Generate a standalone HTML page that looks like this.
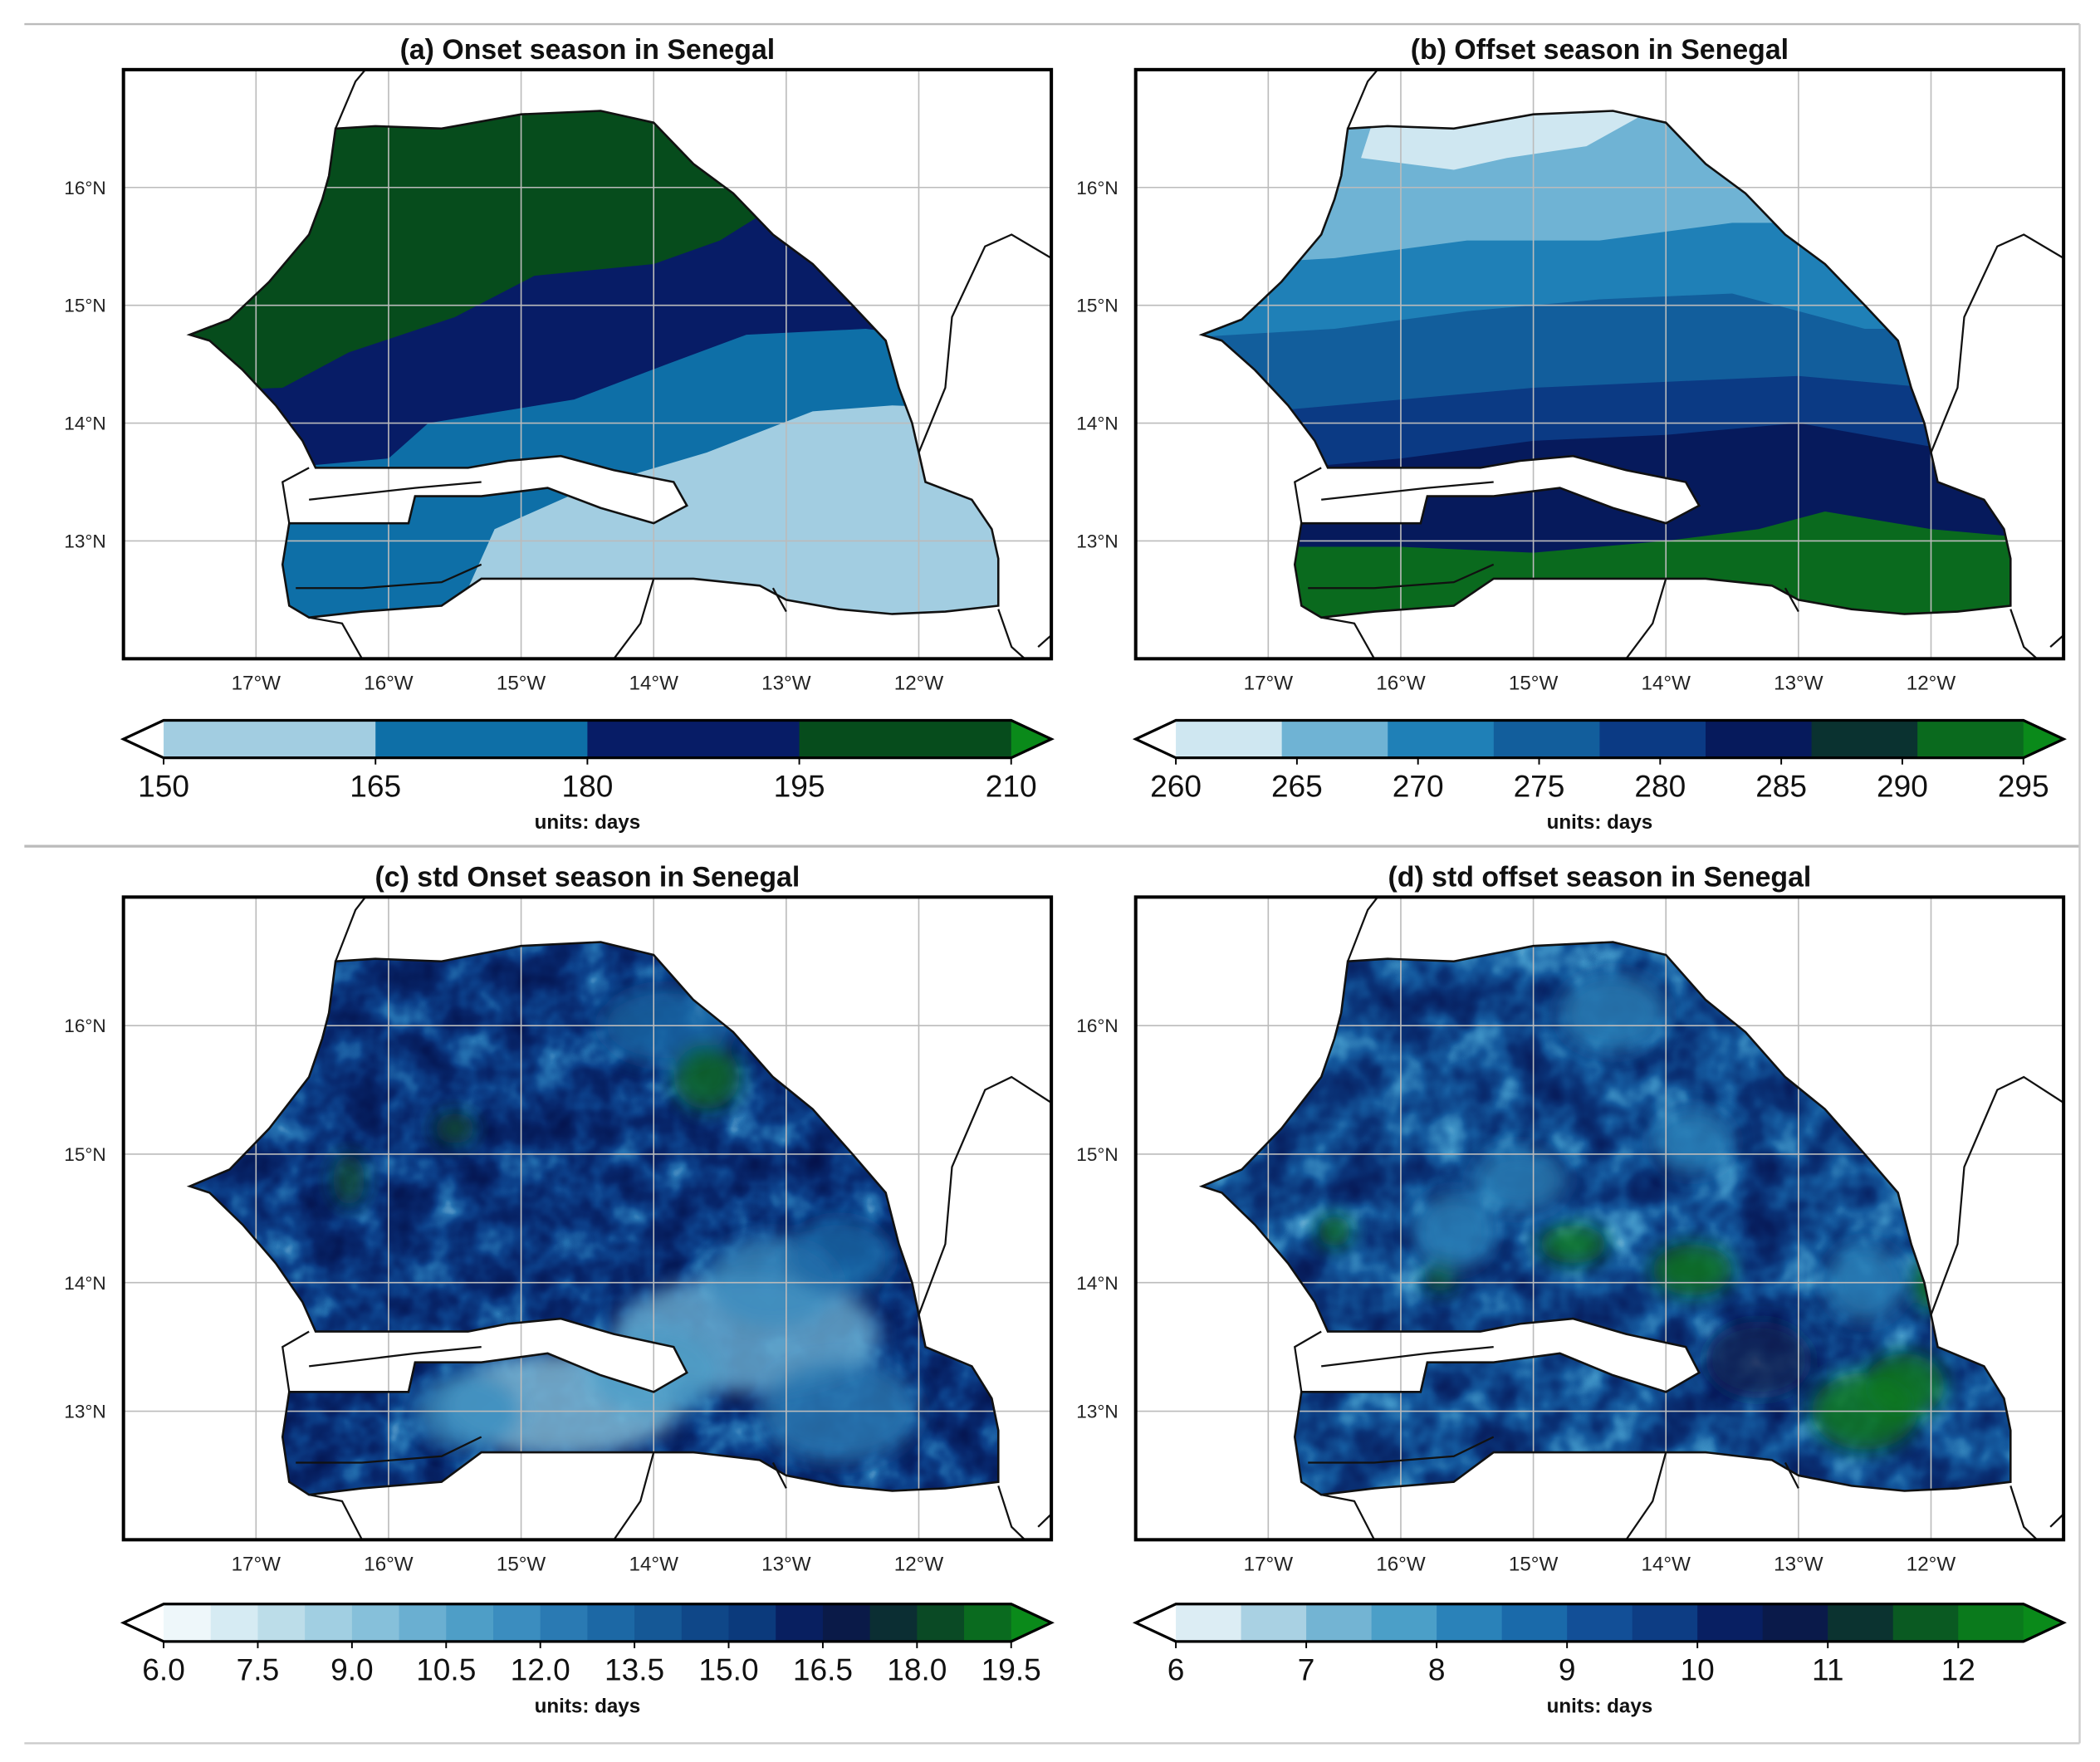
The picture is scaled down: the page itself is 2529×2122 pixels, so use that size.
<!DOCTYPE html>
<html><head><meta charset="utf-8"><style>
html,body{margin:0;padding:0;background:#fff;}
svg{display:block;font-family:"Liberation Sans","DejaVu Sans",sans-serif;}
</style></head><body>
<svg id="fig" width="2529" height="2122" viewBox="0 0 1568 1316" xmlns="http://www.w3.org/2000/svg">
<defs>
<filter id="noiseC" x="0" y="0" width="1" height="1" color-interpolation-filters="sRGB">
<feTurbulence type="fractalNoise" baseFrequency="0.035" numOctaves="3" seed="4"/>
<feColorMatrix type="matrix" values="1 0 0 0 0 1 0 0 0 0 1 0 0 0 0 0 0 0 0 1"/>
<feComponentTransfer>
<feFuncR type="table" tableValues="0.02 0.02 0.03 0.05 0.15 0.6"/>
<feFuncG type="table" tableValues="0.06 0.1 0.15 0.26 0.45 0.8"/>
<feFuncB type="table" tableValues="0.28 0.34 0.42 0.55 0.7 0.9"/>
</feComponentTransfer>
</filter>
<filter id="noiseD" x="0" y="0" width="1" height="1" color-interpolation-filters="sRGB">
<feTurbulence type="fractalNoise" baseFrequency="0.03" numOctaves="3" seed="9"/>
<feColorMatrix type="matrix" values="1 0 0 0 0 1 0 0 0 0 1 0 0 0 0 0 0 0 0 1"/>
<feComponentTransfer>
<feFuncR type="table" tableValues="0.02 0.03 0.04 0.08 0.25 0.75"/>
<feFuncG type="table" tableValues="0.08 0.12 0.2 0.35 0.58 0.9"/>
<feFuncB type="table" tableValues="0.3 0.37 0.47 0.62 0.78 0.95"/>
</feComponentTransfer>
</filter>
<filter id="soft" x="-50%" y="-50%" width="200%" height="200%"><feGaussianBlur stdDeviation="7"/></filter>
</defs>
</svg>
<script>
// ---- data ----
const lonTicks=[-17,-16,-15,-14,-13,-12];
const latTicks=[16,15,14,13];
const levelsA=[150,165,180,195,210];
const colorsA=['#a2cde1','#0e6fa7','#071c66','#064c1c'];
const levelsB=[260,265,270,275,280,285,290,295];
const colorsB=['#cfe7f1','#6fb3d4','#1f80b7','#125e9c','#0b3a84','#061a5c','#0a3230','#0a6a1e'];
const levelsC=[6.0,6.75,7.5,8.25,9.0,9.75,10.5,11.25,12.0,12.75,13.5,14.25,15.0,15.75,16.5,17.25,18.0,18.75,19.5];
const colorsC=['#eef7fa','#d6ebf3','#bcdde9','#a1cfe2','#86c0da','#6aafd1','#4e9ec7','#3b8dbf','#2a7ab3','#1c68a5','#155896','#0f4788','#0b3a7c','#081f60','#0a1a48','#0b2e33','#0a4a25','#0a6b1f'];
const tickLabelsC=['6.0','7.5','9.0','10.5','12.0','13.5','15.0','16.5','18.0','19.5'];
const levelsD=[6,6.5,7,7.5,8,8.5,9,9.5,10,10.5,11,11.5,12,12.5];
const colorsD=['#dcedf4','#a9d1e3','#73b4d3','#4b9fc8','#2a82b9','#1a6aaa','#124f97','#0d3d84','#081f62','#0a1a4a','#0b3330','#0a5a22','#0a7a1c'];
const tickLabelsD=['6','7','8','9','10','11','12'];
const senegal=[[-17.5,14.75],[-17.2,14.88],[-16.9,15.2],[-16.6,15.6],[-16.5,15.9],[-16.45,16.1],[-16.4,16.5],[-16.1,16.52],[-15.6,16.5],[-15.0,16.62],[-14.4,16.65],[-14.0,16.55],[-13.7,16.2],[-13.4,15.95],[-13.1,15.6],[-12.8,15.35],[-12.5,15.0],[-12.25,14.7],[-12.15,14.3],[-12.05,14.0],[-12.0,13.75],[-11.95,13.5],[-11.6,13.35],[-11.45,13.1],[-11.4,12.85],[-11.4,12.45],[-11.8,12.4],[-12.2,12.38],[-12.6,12.42],[-13.0,12.5],[-13.2,12.62],[-13.7,12.68],[-14.5,12.68],[-15.3,12.68],[-15.6,12.45],[-16.2,12.4],[-16.6,12.35],[-16.75,12.45],[-16.8,12.8],[-16.75,13.15],[-15.85,13.15],[-15.8,13.38],[-15.3,13.38],[-14.8,13.45],[-14.4,13.28],[-14.0,13.15],[-13.75,13.3],[-13.85,13.5],[-14.3,13.6],[-14.7,13.72],[-15.1,13.68],[-15.4,13.62],[-16.55,13.62],[-16.65,13.85],[-16.85,14.15],[-17.1,14.45],[-17.35,14.7]];
const bandsA=[
 {c:1,p:[[-18,11],[-11,11],[-11,17],[-18,17]]},
 {c:0,p:[[-15.4,12.6],[-15.2,13.1],[-14.5,13.45],[-13.6,13.75],[-12.8,14.1],[-12.2,14.15],[-11,14.1],[-11,11],[-15.5,11]]},
 {c:2,p:[[-18,13.5],[-16.0,13.7],[-15.7,14.0],[-14.6,14.2],[-13.9,14.5],[-13.3,14.75],[-12.4,14.8],[-11,14.6],[-11,17],[-18,17]]},
 {c:3,p:[[-18,14.25],[-16.8,14.3],[-16.3,14.6],[-15.5,14.9],[-14.9,15.25],[-14.0,15.35],[-13.5,15.55],[-13.0,15.9],[-11,16],[-11,17],[-18,17]]}];
const bandsB=[
 {c:7,p:[[-18,11],[-11,11],[-11,17],[-18,17]]},
 {c:5,p:[[-18,12.95],[-16,12.95],[-15,12.9],[-14,13.0],[-13.3,13.1],[-12.8,13.25],[-12,13.1],[-11,13.0],[-11,17],[-18,17]]},
 {c:4,p:[[-18,13.5],[-16,13.7],[-15,13.85],[-14,13.9],[-13,14.0],[-12,13.8],[-11,13.8],[-11,17],[-18,17]]},
 {c:3,p:[[-18,14.0],[-16.5,14.15],[-15,14.3],[-14,14.35],[-13,14.4],[-12,14.3],[-11,14.3],[-11,17],[-18,17]]},
 {c:2,p:[[-18,14.7],[-16.5,14.8],[-15.5,14.95],[-14.5,15.05],[-13.5,15.1],[-12.5,14.8],[-11,14.8],[-11,17],[-18,17]]},
 {c:1,p:[[-18,15.3],[-16.5,15.4],[-15.5,15.55],[-14.5,15.55],[-13.5,15.7],[-11,15.7],[-11,17],[-18,17]]},
 {c:0,p:[[-16.3,16.25],[-15.6,16.15],[-15.2,16.25],[-14.6,16.35],[-14.2,16.6],[-14.6,16.7],[-16.2,16.6]]}];
const blobsC=[[-14.7,13.05,0.9,0.4,4],[-13.3,13.6,1.0,0.45,5],[-12.6,13.0,0.6,0.4,8],[-14.0,13.3,0.5,0.35,6],[-15.4,13.0,0.4,0.3,7],[-13.1,14.0,0.5,0.35,7],[-13.9,16.0,0.5,0.3,9],[-13.6,15.6,0.25,0.25,17],[-16.3,14.8,0.12,0.2,16],[-15.5,15.2,0.15,0.12,16],[-12.6,14.2,0.4,0.3,9]];
const blobsD=[[-14.4,16.1,0.4,0.3,4],[-15.1,14.8,0.35,0.25,4],[-13.8,15.1,0.3,0.25,4],[-15.6,14.4,0.3,0.3,4],[-16.5,14.4,0.12,0.12,12],[-15.7,14.05,0.12,0.12,11],[-14.7,14.3,0.25,0.15,12],[-13.8,14.1,0.3,0.2,12],[-12.5,13.0,0.4,0.3,12],[-12.0,14.0,0.15,0.2,12],[-12.2,13.2,0.3,0.25,12],[-13.3,13.4,0.4,0.3,9],[-12.5,14.0,0.3,0.3,4]];

const NS='http://www.w3.org/2000/svg';
const svg=document.getElementById('fig');
function el(t,a,p){const e=document.createElementNS(NS,t);for(const k in a)e.setAttribute(k,a[k]);(p||svg).appendChild(e);return e;}

let ln;
ln=el('line',{x1:18,y1:18,x2:1553,y2:18,stroke:'#bbb','stroke-width':1.5});


ln=el('line',{x1:18,y1:632,x2:1553,y2:632,stroke:'#bbb','stroke-width':2});


ln=el('line',{x1:1553,y1:18,x2:1553,y2:1302,stroke:'#ccc','stroke-width':1.5});


ln=el('line',{x1:18,y1:1302,x2:1553,y2:1302,stroke:'#ccc','stroke-width':1.5});



// force opaque noise: alpha row -> constant 1
document.querySelectorAll('feColorMatrix').forEach(m=>m.setAttribute('values','1 0 0 0 0 1 0 0 0 0 1 0 0 0 0 0 0 0 0 1'.replace(/0 0 0 0 1$/,'0 0 0 0 1')));
document.querySelectorAll('feColorMatrix').forEach(m=>m.setAttribute('values','1 0 0 0 0  1 0 0 0 0  1 0 0 0 0  0 0 0 0 1'));

function panel(o){
 const g=el('g',{});
 
 
 const x=lon=>o.x0+(lon+18)*(o.w/7);
 const y=lat=>o.y0+(17-lat)*(o.h/5);
 const pts=a=>a.map(p=>x(p[0]).toFixed(1)+','+y(p[1]).toFixed(1)).join(' ');
 const t=el('text',{x:o.x0+o.w/2,y:o.y0-8,'text-anchor':'middle','font-size':21,'font-weight':'bold',fill:'#111'},g);
 t.textContent=o.title;
 
 
 const cid='clip'+o.id;
 const cp=el('clipPath',{id:cid},g);
 el('polygon',{points:pts(senegal)},cp);
 const fid='frame'+o.id;
 const fcp=el('clipPath',{id:fid},g);
 el('rect',{x:o.x0,y:o.y0,width:o.w,height:o.h},fcp);
 const mg=el('g',{'clip-path':'url(#'+cid+')'},g);
 
 
 if(o.bands){
  o.bands.forEach(b=>{const p=el('polygon',{points:pts(b.p),fill:o.colors[b.c]},mg);
   
   });
 } else {
  el('rect',{x:o.x0,y:o.y0,width:o.w,height:o.h,fill:o.base},mg);
  el('rect',{x:o.x0,y:o.y0,width:o.w,height:o.h,filter:'url(#'+o.filter+')'},mg);
  const bl=el('g',{filter:'url(#soft)'},mg);
  o.blobs.forEach(b=>{const e=el('ellipse',{cx:x(b[0]),cy:y(b[1]),rx:b[2]*o.w/7,ry:b[3]*o.h/5,fill:o.colors[b[4]],opacity:0.8},bl);
   
   });
 }
 lonTicks.forEach(v=>{const l=el('line',{x1:x(v),x2:x(v),y1:o.y0,y2:o.y0+o.h,stroke:'#bbb','stroke-width':1},g);
  
  
  const tt=el('text',{x:x(v),y:o.y0+o.h+23,'text-anchor':'middle','font-size':15,fill:'#222'},g);
  tt.textContent=(-v)+'°W';
  
  });
 latTicks.forEach(v=>{const l=el('line',{x1:o.x0,x2:o.x0+o.w,y1:y(v),y2:y(v),stroke:'#bbb','stroke-width':1},g);
  
  
  const tt=el('text',{x:o.x0-13,y:y(v)+5,'text-anchor':'end','font-size':14,fill:'#222'},g);
  tt.textContent=v+'°N';
  
  });
 const bg=el('g',{'clip-path':'url(#'+fid+')',fill:'none',stroke:'#111','stroke-width':1.4},g);
 
 
 el('polygon',{points:pts(senegal),'stroke-width':1.6},bg);
 [[[-16.4,16.5],[-16.25,16.9],[-16.1,17.1]],
  [[-12.0,13.75],[-11.8,14.3],[-11.75,14.9],[-11.5,15.5],[-11.3,15.6],[-11,15.4]],
  [[-14.0,12.68],[-14.1,12.3],[-14.3,12.0]],[[-13.1,12.6],[-13.0,12.4]],
  [[-11.4,12.42],[-11.3,12.1],[-11.2,12.0]],[[-11.1,12.1],[-11,12.2]],
  [[-16.6,12.35],[-16.35,12.3],[-16.2,12.0]],
  [[-16.75,13.15],[-16.8,13.5],[-16.6,13.62]],
  [[-16.6,13.35],[-15.8,13.45],[-15.3,13.5]],
  [[-16.7,12.6],[-16.2,12.6],[-15.6,12.65],[-15.3,12.8]]
 ].forEach(l=>{const p=el('polyline',{points:pts(l)},bg);
  
  });
 const fr=el('rect',{x:o.x0,y:o.y0,width:o.w,height:o.h,fill:'none',stroke:'#000','stroke-width':2.5},g);
 
 
 const cb=el('g',{},g);
 
 
 const cx0=o.x0+30,cx1=o.x0+o.w-30,cy=o.cby,ch=28;
 const n=o.colors.length;
 const cw=(cx1-cx0)/n;
 el('polygon',{points:`${o.x0},${cy+ch/2} ${cx0},${cy} ${cx0},${cy+ch}`,fill:'#fff'},cb);
 o.colors.forEach((c,i)=>{const r=el('rect',{x:cx0+i*cw,y:cy,width:cw+0.6,height:ch,fill:c},cb);
  
  });
 el('polygon',{points:`${cx1},${cy} ${o.x0+o.w},${cy+ch/2} ${cx1},${cy+ch}`,fill:'#0a8a1a'},cb);
 el('polygon',{points:`${o.x0},${cy+ch/2} ${cx0},${cy} ${cx1},${cy} ${o.x0+o.w},${cy+ch/2} ${cx1},${cy+ch} ${cx0},${cy+ch}`,fill:'none',stroke:'#000','stroke-width':2},cb);
 const lv=o.levels,lmin=lv[0],lmax=lv[lv.length-1];
 o.ticks.forEach(tl=>{const v=parseFloat(tl);const tx=cx0+(v-lmin)/(lmax-lmin)*(cx1-cx0);
  el('line',{x1:tx,x2:tx,y1:cy+ch,y2:cy+ch+5,stroke:'#000','stroke-width':1.2},cb);
  const tt=el('text',{x:tx,y:cy+ch+29,'text-anchor':'middle','font-size':23,fill:'#111'},cb);
  tt.textContent=tl;
  
  });
 const u=el('text',{x:o.x0+o.w/2,y:cy+ch+53,'text-anchor':'middle','font-size':15,'font-weight':'bold',fill:'#111'},cb);
 u.textContent='units: days';
 
 
}
panel({id:'a',name:'panel-a-onset',title:'(a) Onset season in Senegal',x0:92,y0:52,w:693,h:440,bands:bandsA,colors:colorsA,levels:levelsA,ticks:levelsA.map(String),cby:538});
panel({id:'b',name:'panel-b-offset',title:'(b) Offset season in Senegal',x0:848,y0:52,w:693,h:440,bands:bandsB,colors:colorsB,levels:levelsB,ticks:levelsB.map(String),cby:538});
panel({id:'c',name:'panel-c-std-onset',title:'(c) std Onset season in Senegal',x0:92,y0:670,w:693,h:480,filter:'noiseC',base:'#0a2a70',blobs:blobsC,colors:colorsC,levels:levelsC,ticks:tickLabelsC,cby:1198});
panel({id:'d',name:'panel-d-std-offset',title:'(d) std offset season in Senegal',x0:848,y0:670,w:693,h:480,filter:'noiseD',base:'#0c3a85',blobs:blobsD,colors:colorsD,levels:levelsD,ticks:tickLabelsD,cby:1198});
</script>
</body></html>
